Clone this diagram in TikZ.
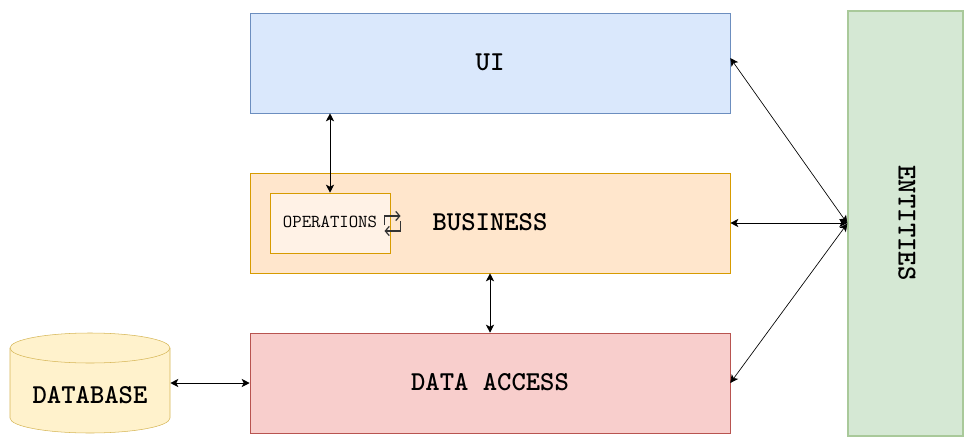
\documentclass[tikz,border=0pt]{standalone}
\usepackage{xcolor}
\usepackage{tikz}
\usetikzlibrary{arrows.meta}

\definecolor{uifill}{HTML}{DAE8FC}
\definecolor{uiline}{HTML}{6C8EBF}
\definecolor{busfill}{HTML}{FFE6CC}
\definecolor{busline}{HTML}{D79B00}
\definecolor{opsfill}{HTML}{FFF2E6}
\definecolor{datafill}{HTML}{F8CECC}
\definecolor{dataline}{HTML}{B85450}
\definecolor{entfill}{HTML}{D5E8D4}
\definecolor{entline}{HTML}{A9C99A}
\definecolor{dbfill}{HTML}{FFF2CC}
\definecolor{dbline}{HTML}{D6B656}

\tikzset{
  bigtext/.style={font=\fontsize{20.5}{24}\selectfont\ttfamily\bfseries, text depth=1.5pt},
  layerbox/.style={bigtext, draw, rectangle, minimum width=360pt, minimum height=75pt, inner sep=0pt},
  link/.style={{Stealth[length=6pt,width=6pt,inset=1.5pt]}-{Stealth[length=6pt,width=6pt,inset=1.5pt]}, black, line width=0.75pt},
  thinlink/.style={link, line width=0.5pt},
  loopline/.style={-{Straight Barb[length=3pt,width=7pt]}, black!80, line width=0.9pt}
}

\begin{document}
\begin{tikzpicture}[x=0.75pt, y=-0.75pt]
    \useasboundingbox (0,0) rectangle (974,446);
    % layers
    \node[layerbox, fill=uifill, draw=uiline] (ui) at (490,63) {UI};
    \node[layerbox, fill=busfill, draw=busline] (business) at (490,223) {};
    \node[layerbox, fill=datafill, draw=dataline] (dataaccess) at (490,383) {DATA ACCESS};
    \node[layerbox, fill=entfill, draw=entline, line width=1pt, minimum width=86.25pt, minimum height=318.75pt] (entities) at (905.5,223.5) {};
    \node[bigtext, rotate=-90] (entitieslabel) at (906,223) {ENTITIES};
    \node[bigtext] (businesslabel) at (490,223) {BUSINESS};
    \node[draw=busline, fill=opsfill, rectangle, minimum width=90pt, minimum height=45pt, inner sep=0pt] (ops) at (330,223) {};
    \node[font=\fontsize{13.7}{16}\selectfont\ttfamily] (opslabel) at (330,222) {OPERATIONS};
    % database
    \node[minimum width=120pt, minimum height=75pt, inner sep=0pt] (database) at (90,383) {};
    \draw[draw=dbline, fill=dbfill] (10,348) arc[start angle=180, end angle=0, x radius=60pt, y radius=11.25pt]
      -- (170,418) arc[start angle=0, end angle=-180, x radius=60pt, y radius=11.25pt] -- cycle;
    \draw[draw=dbline] (10,348) arc[start angle=180, end angle=360, x radius=60pt, y radius=11.25pt];
    \node[bigtext] (databaselabel) at (90,396) {DATABASE};
    % loop icon
    \draw[loopline] (384.5,225) -- (384.5,216) -- (400.5,216);
    \draw[loopline] (400.5,221) -- (400.5,231) -- (384.5,231);
    % connectors
    \draw[link] (ops.north) -- (ops.north |- ui.south);
    \draw[link] (business.south) -- (dataaccess.north);
    \draw[link] (database.east) -- (dataaccess.west);
    \draw[link] (business.east) -- (business.east -| entities.west);
    \draw[thinlink] (ui.east) ++(0,-5) -- (entities.west);
    \draw[thinlink] (dataaccess.east) -- (entities.west);
\end{tikzpicture}
\end{document}
